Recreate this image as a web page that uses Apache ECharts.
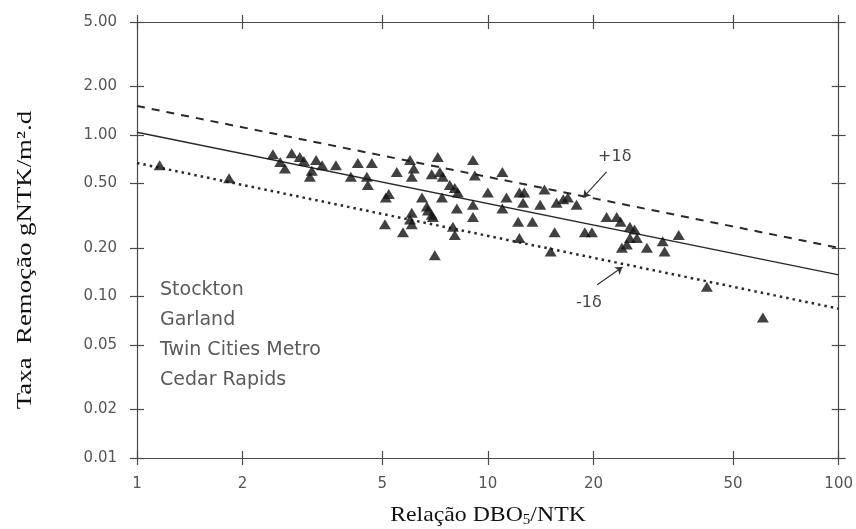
<!DOCTYPE html>
<html>
<head>
<meta charset="utf-8">
<script src="https://cdn.jsdelivr.net/npm/echarts@6/dist/echarts.min.js"></script>
<style>
  html, body { margin: 0; padding: 0; background: #fff; }
  #chart { width: 856px; height: 529px; }
</style>
</head>
<body>
<div id="chart"></div>
<script>
// Nitrogen removal rate vs. BOD5/TKN ratio (log-log)
const xTicks = [1, 2, 5, 10, 20, 50, 100];
const yTicks = [0.01, 0.02, 0.05, 0.1, 0.2, 0.5, 1, 2, 5];

// Observed plants: [DBO5/NTK, removal rate]
const observations = [
  [1.16, 0.65], [1.83, 0.54], [2.44, 0.76], [2.56, 0.68], [2.64, 0.62],
  [2.76, 0.77], [2.91, 0.73], [2.99, 0.69], [3.24, 0.70], [3.37, 0.65],
  [3.15, 0.60], [3.11, 0.55], [3.69, 0.65], [4.07, 0.55], [4.26, 0.67],
  [4.67, 0.67], [4.52, 0.55], [4.55, 0.49], [5.50, 0.59], [5.12, 0.41],
  [5.22, 0.43], [5.09, 0.28], [5.73, 0.25], [6.00, 0.70], [6.15, 0.62],
  [6.07, 0.55], [6.07, 0.33], [6.00, 0.30], [6.07, 0.28], [6.49, 0.41],
  [6.70, 0.36], [6.75, 0.34], [6.92, 0.32], [6.97, 0.31], [7.20, 0.73],
  [6.92, 0.57], [7.30, 0.59], [7.44, 0.55], [7.79, 0.49], [8.05, 0.47],
  [8.21, 0.44], [7.40, 0.41], [8.16, 0.35], [7.95, 0.27], [8.05, 0.24],
  [7.06, 0.18], [9.07, 0.70], [9.18, 0.56], [9.07, 0.37], [9.07, 0.31],
  [10.0, 0.44], [11.0, 0.59], [11.3, 0.41], [11.0, 0.35], [12.3, 0.44],
  [12.7, 0.44], [12.6, 0.38], [14.1, 0.37], [14.5, 0.46], [15.7, 0.38],
  [12.2, 0.29], [13.4, 0.29], [12.3, 0.23], [15.5, 0.25], [15.1, 0.19],
  [16.4, 0.40], [16.9, 0.41], [17.9, 0.37], [18.9, 0.25], [19.8, 0.25],
  [21.8, 0.31], [23.3, 0.31], [23.9, 0.29], [25.4, 0.27], [26.2, 0.26],
  [24.1, 0.20], [24.9, 0.21], [25.4, 0.23], [26.6, 0.23], [28.4, 0.20],
  [31.5, 0.22], [31.9, 0.19], [35.0, 0.24], [42.1, 0.115], [60.8, 0.074]
];

// Regression line and ±1 standard deviation bands
const fitLine   = [[1, 1.04], [100, 0.136]];
const upperLine = [[1, 1.51], [100, 0.20]];
const lowerLine = [[1, 0.67], [100, 0.084]];

// Band annotations: text anchor and arrow start/end
const plusLabel  = { text: '+1δ', at: [23.0, 0.73], arrow: [[21.8, 0.59], [18.7, 0.41]] };
const minusLabel = { text: '-1δ', at: [19.4, 0.091], arrow: [[20.5, 0.118], [24.2, 0.152]] };

const plantNames = ['Stockton', 'Garland', 'Twin Cities Metro', 'Cedar Rapids'];

const axisColor = '#4a4a4a';
const sansFont = '"DejaVu Sans", Verdana, sans-serif';
const serifFont = '"Liberation Serif", "Times New Roman", serif';
const labelFont = { color: '#555', fontFamily: sansFont, fontSize: 15 };

function xAxisDef(position, inside, withLabels) {
  return {
    type: 'log', logBase: 10, min: 1, max: 100, position: position,
    axisLine: { show: !inside, lineStyle: { color: axisColor, width: 1.2 } },
    axisTick: { show: true, inside: inside, length: 7, customValues: xTicks,
                lineStyle: { color: axisColor, width: 1.2 } },
    axisLabel: withLabels
      ? Object.assign({ show: true, margin: 19, customValues: xTicks,
                        formatter: v => String(Math.round(v)) }, labelFont)
      : { show: false },
    splitLine: { show: false }, minorTick: { show: false }
  };
}
function yAxisDef(position, inside, withLabels) {
  return {
    type: 'log', logBase: 10, min: 0.01, max: 5, position: position,
    axisLine: { show: !inside, lineStyle: { color: axisColor, width: 1.2 } },
    axisTick: { show: true, inside: inside, length: 7, customValues: yTicks,
                lineStyle: { color: axisColor, width: 1.2 } },
    axisLabel: withLabels
      ? Object.assign({ show: true, margin: 20, customValues: yTicks,
                        formatter: v => Number(v).toFixed(2) }, labelFont)
      : { show: false },
    splitLine: { show: false }, minorTick: { show: false }
  };
}

const xAxes = [xAxisDef('bottom', false, true), xAxisDef('bottom', true, false),
               xAxisDef('top', false, false), xAxisDef('top', true, false)];
const yAxes = [yAxisDef('left', false, true), yAxisDef('left', true, false),
               yAxisDef('right', false, false), yAxisDef('right', true, false)];

function bandLine(name, data, type, width) {
  return {
    name: name, type: 'line', data: data, showSymbol: false, silent: true, z: 2,
    lineStyle: { color: '#2a2a2a', width: width, type: type }
  };
}

function annotation(a) {
  return {
    symbol: ['none', 'arrow'], symbolSize: 7, silent: true,
    lineStyle: { color: '#333', width: 1.2, type: 'solid' },
    label: { show: false },
    data: [[{ coord: a.arrow[0] }, { coord: a.arrow[1] }]]
  };
}
function annotationText(a) {
  return {
    symbol: 'rect', symbolSize: 1, silent: true,
    itemStyle: { color: 'rgba(0,0,0,0)' },
    label: { show: true, position: 'inside', formatter: a.text,
             color: '#444', fontFamily: sansFont, fontSize: 16 },
    data: [{ coord: a.at }]
  };
}

const titles = [
  { // x axis title with subscript
    type: 'text', x: 488, y: 515, scaleX: 1.08, silent: true,
    style: {
      text: 'Relação DBO{s|5}/NTK', fill: '#111', fontFamily: serifFont, fontSize: 22,
      align: 'center', verticalAlign: 'middle',
      rich: { s: { fontFamily: serifFont, fontSize: 14, fill: '#111', padding: [10, 0, 0, 0] } }
    }
  },
  { // y axis title, rotated
    type: 'text', x: 25, y: 260, rotation: Math.PI / 2, scaleX: 1.22, silent: true,
    style: {
      text: 'Taxa  Remoção gNTK/m².d', fill: '#111', fontFamily: serifFont, fontSize: 22,
      align: 'center', verticalAlign: 'middle'
    }
  }
];

const plantLabels = plantNames.map((n, i) => ({
  type: 'text', x: 160, y: 290 + i * 30, silent: true,
  style: { text: n, fill: '#5a5a5a', fontFamily: sansFont, fontSize: 19,
           align: 'left', verticalAlign: 'middle' }
}));

const chart = echarts.init(document.getElementById('chart'));
chart.setOption({
  backgroundColor: '#ffffff',
  animation: false,
  grid: { left: 137, right: 17, top: 22, bottom: 71 },
  xAxis: xAxes,
  yAxis: yAxes,
  series: [
    bandLine('+1δ', upperLine, [8, 7], 2),
    bandLine('ajuste', fitLine, 'solid', 1.5),
    bandLine('-1δ', lowerLine, [2.5, 4], 2.5),
    {
      name: 'observações', type: 'scatter', data: observations, z: 3,
      symbol: 'triangle', symbolSize: [12, 10],
      itemStyle: { color: '#111' },
      markLine: annotation(plusLabel),
      markPoint: annotationText(plusLabel)
    },
    {
      name: 'anot', type: 'scatter', data: [], z: 3,
      markLine: annotation(minusLabel),
      markPoint: annotationText(minusLabel)
    }
  ],
  graphic: titles.concat(plantLabels)
});
</script>
</body>
</html>
